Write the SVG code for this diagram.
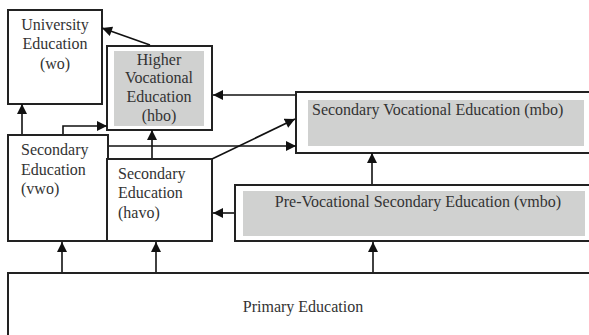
<svg xmlns="http://www.w3.org/2000/svg" width="589" height="335" viewBox="0 0 589 335">
<style>
.box{fill:#fff;stroke:#222;stroke-width:2}
.gray{fill:#d0d1d0;stroke:none}
text{font-family:'Liberation Serif','DejaVu Serif',serif;font-size:16px;fill:#333}
.c{text-anchor:middle}
.conn{fill:none;stroke:#111;stroke-width:1.6;marker-end:url(#ah)}
</style>
<defs>
<marker id="ah" viewBox="0 0 10 10" refX="10" refY="5" markerUnits="userSpaceOnUse" markerWidth="11" markerHeight="10" orient="auto">
<path d="M0,0 L10,5 L0,10 z" fill="#111"/>
</marker>
</defs>
<rect x="0" y="0" width="589" height="335" fill="#fff"/>
<g id="primary">
<rect class="box" x="8" y="273" width="600" height="80"/>
<text class="c" x="303" y="312" font-family="Liberation Serif, DejaVu Serif, serif">Primary Education</text>
</g>
<g id="university">
<rect class="box" x="8" y="10" width="94" height="94"/>
<text class="c" x="55" y="30">University</text>
<text class="c" x="55" y="49">Education</text>
<text class="c" x="55" y="69">(wo)</text>
</g>
<g id="hbo">
<rect class="box" x="107" y="46" width="105" height="84"/>
<rect class="gray" x="114" y="51" width="90" height="75"/>
<text class="c" x="159" y="65">Higher</text>
<text class="c" x="159" y="83">Vocational</text>
<text class="c" x="159" y="102">Education</text>
<text class="c" x="159" y="121">(hbo)</text>
</g>
<g id="vwo">
<rect class="box" x="8" y="135" width="100" height="106"/>
<text x="21" y="155">Secondary</text>
<text x="21" y="175">Education</text>
<text x="21" y="194">(vwo)</text>
</g>
<g id="havo">
<rect class="box" x="107" y="159" width="105" height="82"/>
<text x="118" y="179">Secondary</text>
<text x="118" y="198">Education</text>
<text x="118" y="218">(havo)</text>
</g>
<g id="mbo">
<rect class="box" x="296" y="92" width="310" height="61"/>
<rect class="gray" x="308" y="100" width="276" height="46"/>
<text x="312" y="115">Secondary Vocational Education (mbo)</text>
</g>
<g id="vmbo">
<rect class="box" x="235" y="185" width="370" height="56"/>
<rect class="gray" x="243" y="191" width="342" height="45"/>
<text class="c" x="418" y="207">Pre-Vocational Secondary Education (vmbo)</text>
</g>
<g id="connectors">
<line class="conn" x1="150" y1="45" x2="102" y2="28"/>
<line class="conn" x1="22" y1="134" x2="22" y2="104"/>
<polyline class="conn" points="63,134 63,126 107,126"/>
<line class="conn" x1="152" y1="158" x2="152" y2="130"/>
<line class="conn" x1="109" y1="146" x2="296" y2="146"/>
<line class="conn" x1="212" y1="159" x2="295" y2="119"/>
<line class="conn" x1="295" y1="95" x2="213" y2="95"/>
<line class="conn" x1="372" y1="184" x2="372" y2="153"/>
<line class="conn" x1="234" y1="213" x2="213" y2="213"/>
<line class="conn" x1="62" y1="272" x2="62" y2="242"/>
<line class="conn" x1="156" y1="272" x2="156" y2="242"/>
<line class="conn" x1="373" y1="272" x2="373" y2="242"/>
</g>
</svg>
